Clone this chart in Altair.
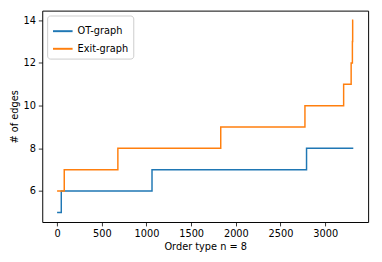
import altair as alt
import pandas as pd

ot_x = [0, 47, 1062, 2791, 3314]
ot_y = [5, 6, 7, 8, 8]
exit_x = [0, 80, 680, 1831, 2773, 3206, 3290, 3304, 3307, 3314]
exit_y = [6, 7, 8, 9, 10, 11, 12, 13, 14, 14]
series = ["OT-graph", "Exit-graph"]
colors = ["#1f77b4", "#ff7f0e"]

rows = []
for i, (x, y) in enumerate(zip(ot_x, ot_y)):
    rows.append({"x": x, "y": y, "s": series[0], "o": i})
for i, (x, y) in enumerate(zip(exit_x, exit_y)):
    rows.append({"x": x, "y": y, "s": series[1], "o": i})
df = pd.DataFrame(rows)

font = "DejaVu Sans"
chart = alt.Chart(df).mark_line(interpolate="step-after", strokeWidth=1.5, clip=True).encode(
    x=alt.X("x:Q", title="Order type n = 8",
            scale=alt.Scale(domain=[-166, 3480], nice=False, zero=False),
            axis=alt.Axis(values=[0, 500, 1000, 1500, 2000, 2500, 3000], format="d")),
    y=alt.Y("y:Q", title="# of edges",
            scale=alt.Scale(domain=[4.55, 14.45], nice=False, zero=False),
            axis=alt.Axis(values=[6, 8, 10, 12, 14])),
    color=alt.Color("s:N", scale=alt.Scale(domain=series, range=colors),
                    legend=alt.Legend(title=None, orient="top-left", offset=5,
                                      symbolType="stroke", symbolSize=400,
                                      symbolStrokeWidth=2, strokeColor="#cccccc",
                                      fillColor="white", padding=5, cornerRadius=3,
                                      labelFontSize=10, labelFont=font, labelColor="black",
                                      rowPadding=2)),
    order="o:Q",
).properties(
    width=333, height=216,
    autosize=alt.AutoSizeParams(type="none"),
    padding={"left": 35, "top": 0, "right": 6, "bottom": 30},
).configure_view(
    stroke="black", strokeWidth=1
).configure_axis(
    grid=False, domain=False, tickColor="black", tickSize=4, tickWidth=0.8,
    labelFont=font, labelFontSize=10, labelColor="black", labelPadding=3,
    titleFont=font, titleFontSize=10, titleFontWeight="normal", titleColor="black",
).configure_axisX(titlePadding=3).configure_axisY(titlePadding=4)

chart.save("out.html", embed_options={"renderer": "svg", "actions": False})
